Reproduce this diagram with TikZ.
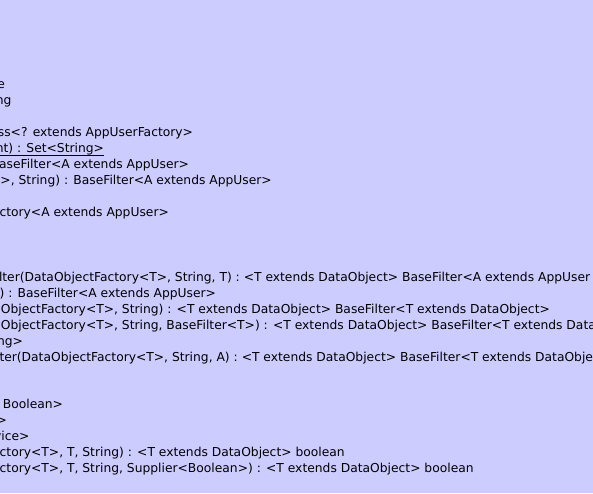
\documentclass[tikz,border=0pt]{standalone}
\usepackage{fontspec}
\setmainfont{DejaVu Sans}
\usepackage{tikz}
\usetikzlibrary{positioning}
\definecolor{umlback}{HTML}{CCCCFF}

\begin{document}
\begin{tikzpicture}[x=1pt,y=-1pt,
    member/.style={inner sep=0pt,outer sep=0pt,text=black,
      font=\fontsize{12.3}{16}\selectfont},
    tailof/.style={member,anchor=base east},
    headof/.style={member,anchor=base west}]
  \fill[umlback] (0,0) rectangle (593,493);
  \useasboundingbox (0,0) rectangle (593,493);
  \clip (0,0) rectangle (593,493);
  % first block
  \node[tailof] (fieldE) at (5,88) {e};
  \node[tailof] (fieldNg) at (11.5,104) {ng};
  \node[tailof] (userClass) at (193,136) {ss<? extends AppUserFactory>};
  \node[tailof] (staticSet) at (104,152) {nt) : Set<String>};
  \draw[line width=1pt] ([yshift=-3pt]staticSet.base west) -- ([yshift=-3pt]staticSet.base east);
  \node[tailof] (userFilter) at (189,168) {aseFilter<A extends AppUser>};
  \node[headof] (userFilterStr) at (0.5,184) {>, String) : BaseFilter<A extends AppUser>};
  \node[headof] (userFactory) at (-0.5,216) {ctory<A extends AppUser>};
  % second block
  \node[headof] (filterByObj) at (-1,281) {lter(DataObjectFactory<T>, String, T) : <T extends DataObject> BaseFilter<A extends AppUser};
  \node[tailof] (filterPlain) at (216,297) {) : BaseFilter<A extends AppUser>};
  \node[headof] (objFilter) at (1,313) {ObjectFactory<T>, String) : <T extends DataObject> BaseFilter<T extends DataObject>};
  \node[headof] (objFilterBase) at (objFilter.base west |- 0,329) {ObjectFactory<T>, String, BaseFilter<T>) : <T extends DataObject> BaseFilter<T extends Data};
  \node[tailof] (fieldNgB) at (23,345) {ng>};
  \node[headof] (filterByUser) at (-0.5,361) {ter(DataObjectFactory<T>, String, A) : <T extends DataObject> BaseFilter<T extends DataObje};
  % third block
  \node[tailof] (supplierB) at (63,408) { Boolean>};
  \node[tailof] (closeT) at (7,424) {>};
  \node[tailof] (serviceT) at (29.5,440) {vice>};
  \node[headof] (checkObj) at (-0.3,456) {ctory<T>, T, String) : <T extends DataObject> boolean};
  \node[headof] (checkObjSup) at (-0.3,472) {ctory<T>, T, String, Supplier<Boolean>) : <T extends DataObject> boolean};
\end{tikzpicture}
\end{document}
